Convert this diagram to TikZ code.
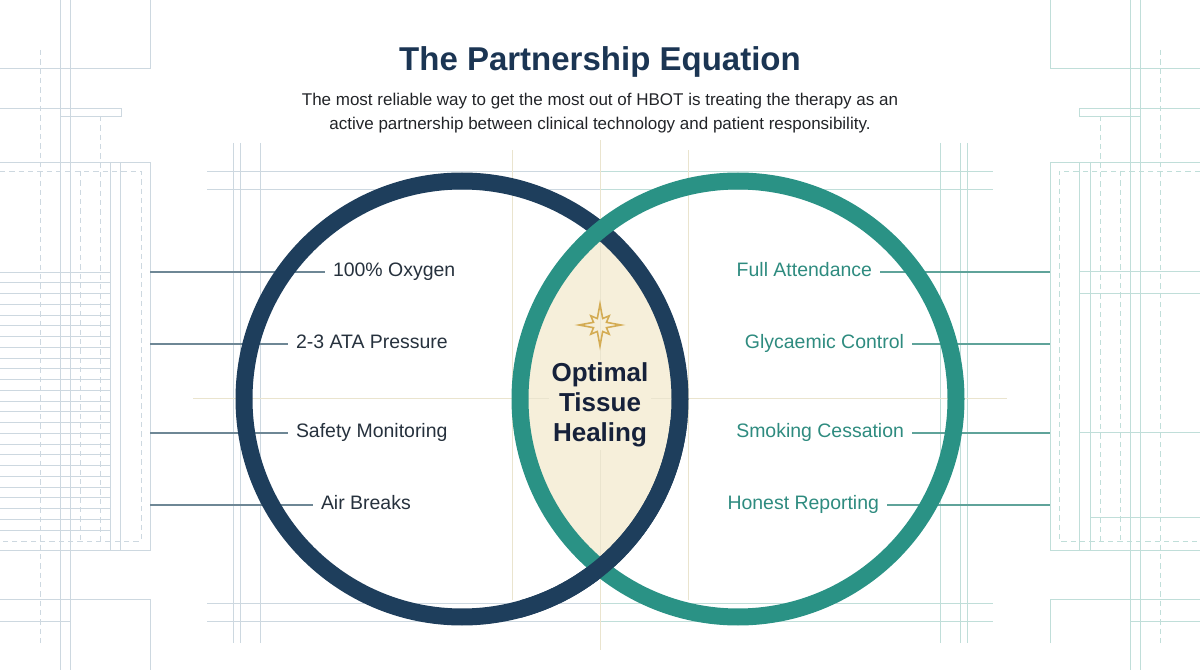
\documentclass[tikz,border=0pt]{standalone}
\usepackage{fontspec}
\setmainfont{Liberation Sans}
\usepackage{tikz}
\usetikzlibrary{calc}

\begin{document}
\begin{tikzpicture}[x=0.75pt, y=-0.75pt,
            % Blueprint lines
            bpl/.style={draw={rgb,255:red,205;green,216;blue,224}, line width=0.6pt},
            bpr/.style={draw={rgb,255:red,192;green,222;blue,217}, line width=0.6pt},
            guide/.style={draw={rgb,255:red,234;green,228;blue,206}, line width=0.6pt},
            dsh/.style={dash pattern=on 4pt off 3pt},
            % Venn rings
            ringnavy/.style={draw={rgb,255:red,30;green,62;blue,92}, line width=12.75pt},
            ringteal/.style={draw={rgb,255:red,42;green,146;blue,133}, line width=12.75pt},
            lens/.style={fill={rgb,255:red,246;green,239;blue,218}},
            % Leader lines
            leadl/.style={draw={rgb,255:red,110;green,135;blue,149}, line width=1pt},
            leadr/.style={draw={rgb,255:red,95;green,163;blue,154}, line width=1pt},
            % Labels
            lbl/.style={font=\fontsize{14.6}{17}\selectfont, inner sep=0pt, outer xsep=6pt,
                    text height=0.72em, text depth=0pt},
            lbll/.style={lbl, anchor=west, text={rgb,255:red,38;green,49;blue,61}},
            lblr/.style={lbl, anchor=east, text={rgb,255:red,46;green,139;blue,127}},
            % Star
            starline/.style={draw={rgb,255:red,212;green,172;blue,84}, line width=1.2pt, line join=miter}
        ]
        \useasboundingbox (0,0) rectangle (1200,670);

        % Blueprint, left
        \draw[bpl] (0,68) -- (150,68) -- (150,0);
        \draw[bpl] (60,0) -- (60,670) (70,0) -- (70,670);
        \draw[bpl, dsh] (40,50) -- (40,645);
        \draw[bpl] (0,108) -- (121,108) -- (121,116) -- (60,116);
        \draw[bpl, dsh] (100,116) -- (100,541);
        \draw[bpl] (0,162) -- (150,162) -- (150,550) -- (0,550);
        \draw[bpl, dsh] (0,171) -- (141,171) -- (141,541) -- (0,541);
        \draw[bpl] (110,162) -- (110,550) (120,162) -- (120,550);
        \draw[bpl, dsh] (80,171) -- (80,541);
        \foreach \i in {0,...,24}
            \draw[bpl] (0,{272+10.75*\i}) -- (110,{272+10.75*\i});
        \draw[bpl] (0,599) -- (150,599) -- (150,670);
        \draw[bpl] (0,621) -- (70,621);

        % Blueprint, right
        \draw[bpr] (1050,0) -- (1050,68) -- (1200,68);
        \draw[bpr] (1130,0) -- (1130,670) (1140,0) -- (1140,670);
        \draw[bpr, dsh] (1160,50) -- (1160,645);
        \draw[bpr] (1200,108) -- (1079,108) -- (1079,116) -- (1140,116);
        \draw[bpr, dsh] (1100,116) -- (1100,541);
        \draw[bpr] (1200,162) -- (1050,162) -- (1050,550) -- (1200,550);
        \draw[bpr, dsh] (1200,171) -- (1059,171) -- (1059,541) -- (1200,541);
        \draw[bpr] (1079,162) -- (1079,550) (1090,162) -- (1090,550);
        \draw[bpr, dsh] (1120,171) -- (1120,541);
        \foreach \y in {271,293,432}
            \draw[bpr] (1079,\y) -- (1200,\y);
        \draw[bpr] (1090,517) -- (1200,517);
        \draw[bpr] (1050,643) -- (1050,599) -- (1200,599);
        \draw[bpr] (1130,621) -- (1200,621);

        % Frame round the rings
        \foreach \x in {233,240,260}
            \draw[bpl] (\x,143) -- (\x,643);
        \foreach \x in {940,960,967}
            \draw[bpr] (\x,143) -- (\x,643);
        \foreach \y in {171,189,603,621} {
            \draw[bpl] (207,\y) -- (600,\y);
            \draw[bpr] (600,\y) -- (993,\y);
        }

        % Overlap
        \begin{scope}
            \clip (462,399) circle[radius=218];
            \fill[lens] (738,399) circle[radius=218];
        \end{scope}

        % Centre guides
        \draw[guide] (512,150) -- (512,600) (688,150) -- (688,600);
        \draw[guide] (193,398) -- (1007,398);
        \draw[guide] (600,140) -- (600,650);

        % Labels, technology side
        \node[lbll] (oxy) at (325,272) {100\% Oxygen};
        \node[lbll] (ata) at (288,344) {2-3 ATA Pressure};
        \node[lbll] (safe) at (288,433) {Safety Monitoring};
        \node[lbll] (air) at (313,505) {Air Breaks};

        % Labels, patient side
        \node[lblr] (att) at (880,272) {Full Attendance};
        \node[lblr] (gly) at (912,344) {Glycaemic Control};
        \node[lblr] (smk) at (912,433) {Smoking Cessation};
        \node[lblr] (hon) at (887,505) {Honest Reporting};

        % Leader lines
        \coordinate (la) at (150,272);
        \coordinate (lb) at (150,344);
        \coordinate (lc) at (150,433);
        \coordinate (ld) at (150,505);
        \coordinate (ra) at (1050,272);
        \coordinate (rb) at (1050,344);
        \coordinate (rc) at (1050,433);
        \coordinate (rd) at (1050,505);
        \draw[leadl] (la) -- (oxy);
        \draw[leadl] (lb) -- (ata);
        \draw[leadl] (lc) -- (safe);
        \draw[leadl] (ld) -- (air);
        \draw[leadr] (att) -- (ra);
        \draw[leadr] (gly) -- (rb);
        \draw[leadr] (smk) -- (rc);
        \draw[leadr] (hon) -- (rd);

        % Rings (navy passes over at the bottom)
        \draw[ringnavy] (462,399) circle[radius=218];
        \draw[ringteal] (738,399) circle[radius=218];
        \begin{scope}
            \clip (520,420) rectangle (700,660);
            \draw[ringnavy] (462,399) circle[radius=218];
        \end{scope}

        % Title
        \node[font=\fontsize{24.75}{30}\selectfont\bfseries, anchor=base,
              text={rgb,255:red,27;green,53;blue,83}] (title) at (600,71) {The Partnership Equation};
        \node[font=\fontsize{12.75}{18}\selectfont, align=center,
              text={rgb,255:red,34;green,36;blue,40}] (sub) at (600,113)
            {The most reliable way to get the most out of HBOT is treating the therapy as an\\
             active partnership between clinical technology and patient responsibility.};

        % Star
        \coordinate (st) at (600,325);
        \draw[starline] ($(st)+(90:21)$)
            \foreach \a/\r in {112.5/7,135/13,157.5/7,180/21,202.5/7,225/13,247.5/7,
                               270/21,292.5/7,315/13,337.5/7,0/21,22.5/7,45/13,67.5/7}
            { -- ($(st)+(\a:\r)$) } -- cycle;

        % Result
        \node[lens, font=\fontsize{19.5}{22.5}\selectfont\bfseries, align=center, inner sep=2pt,
              text={rgb,255:red,22;green,33;blue,58}] (heal) at (600,405) {Optimal\\Tissue\\Healing};

    \end{tikzpicture}
\end{document}
